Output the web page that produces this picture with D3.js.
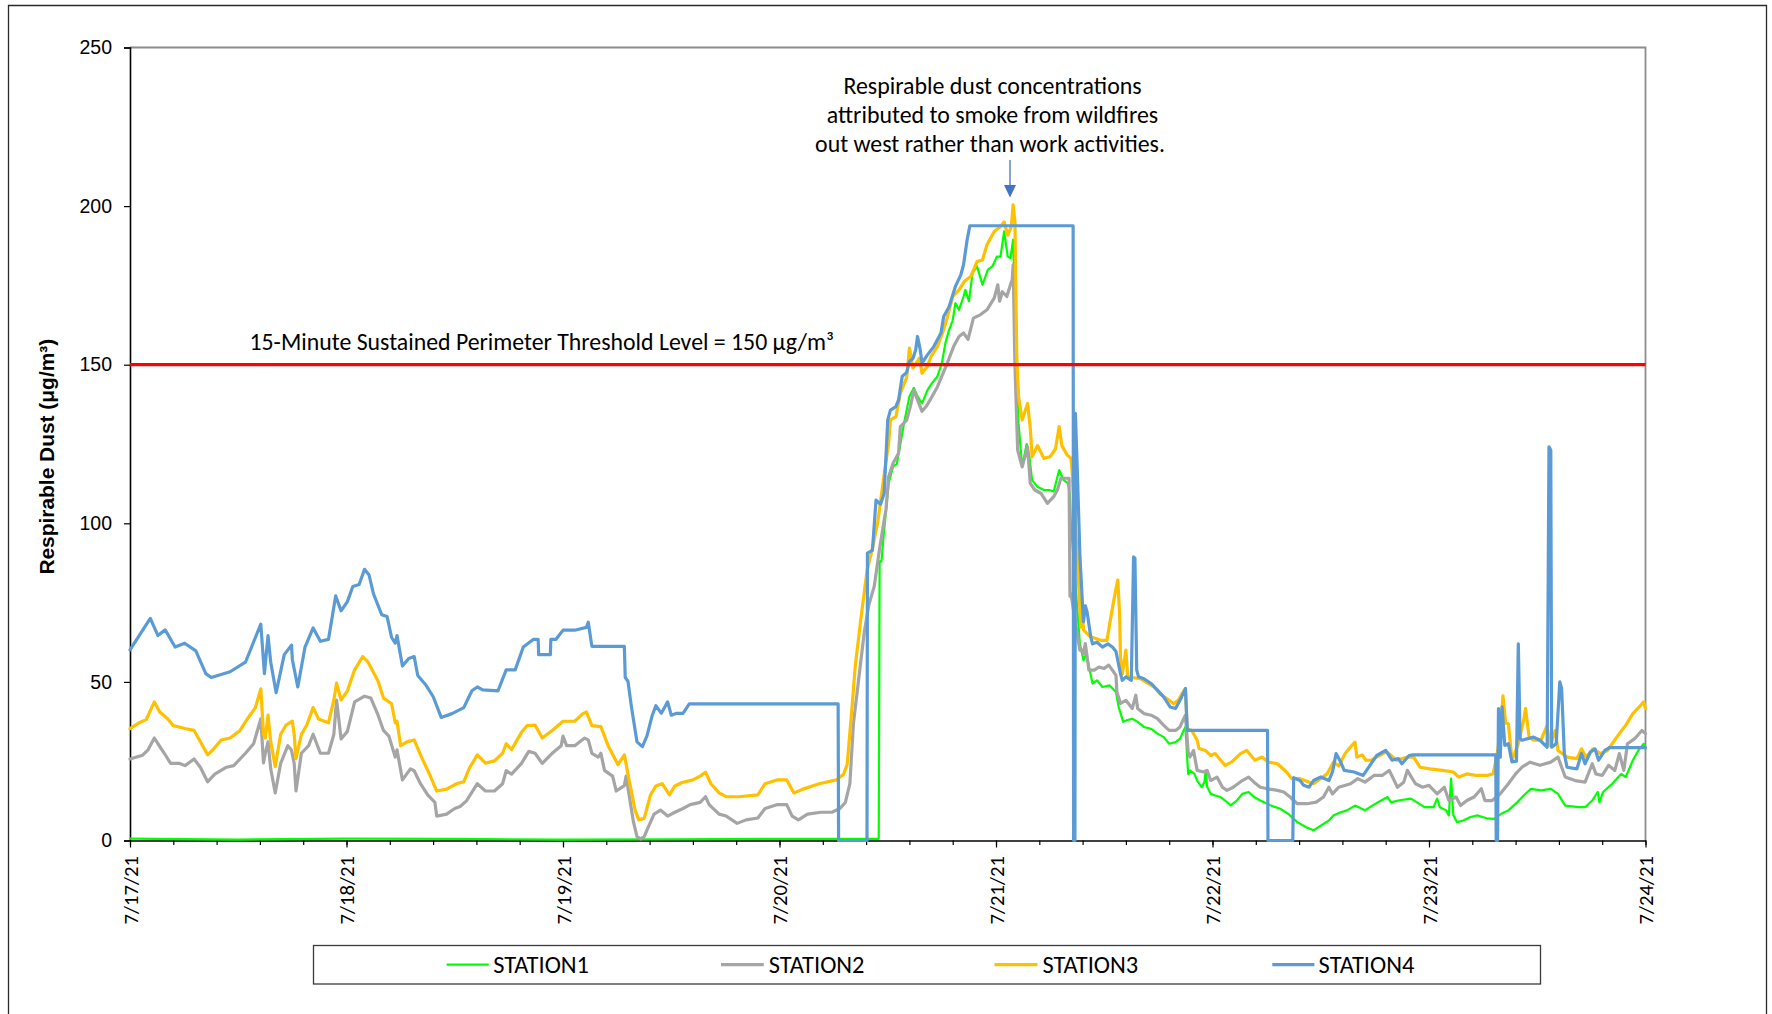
<!DOCTYPE html>
<html>
<head>
<meta charset="utf-8">
<script src="https://cdn.jsdelivr.net/npm/d3@7"></script>
<style>
  html, body { margin: 0; padding: 0; background: #ffffff; }
  svg { display: block; }
</style>
</head>
<body>
<svg id="chart" width="1772" height="1014"></svg>
<script>
// ---------------- DATA (hours since 7/17/21 00:00, value in µg/m³) ----------------
const seriesNames = ["STATION1", "STATION2", "STATION3", "STATION4"];
const dateLabels = ["7/17/21", "7/18/21", "7/19/21", "7/20/21", "7/21/21", "7/22/21", "7/23/21", "7/24/21"];
const yTicks = [0, 50, 100, 150, 200, 250];
const threshold = 150;
const thresholdLabel = "15-Minute Sustained Perimeter Threshold Level = 150 μg/m³";
const noteLines = ["Respirable dust concentrations", "attributed to smoke from wildfires", "out west rather than work activities."];
const yTitle = "Respirable Dust (μg/m³)";

const station1 = [
  [0,0.6],[12,0.3],[24,0.6],[36,0.5],[48,0.3],[60,0.4],[72,0.5],[83.0,0.5],[83.1,88],[83.3,88],[83.6,97.9],
  [84.1,112.6],[84.6,118],[85.0,118.7],[85.4,125],[85.8,131.5],[86.4,140],[86.9,142.7],[87.3,140],[87.8,137.8],
  [88.4,142],[88.9,144.2],[89.5,146.3],[90.0,150.5],[90.4,157],[90.8,161],[91.2,164],[91.5,169.4],[91.9,167.3],
  [92.4,171.5],[92.6,173.6],[93.0,170],[93.4,178.9],[93.9,181],[94.5,175.2],[95.1,180],[95.6,181],[96.1,184.1],
  [96.5,184.1],[96.9,192],[97.3,184.1],[97.6,183.6],[97.9,189.4],[98.1,170],[98.5,131.5],[98.9,117.8],[99.4,125],
  [99.7,121],[100.0,113.6],[100.6,111.5],[101.3,110.5],[101.9,110.5],[102.4,110],[103.0,116.8],[103.5,113.6],
  [104.0,112.6],[104.2,108.4],[104.3,100],[105.3,62],[105.7,56.8],[106.0,59],[106.7,49.5],[107.2,50.5],[107.8,48.4],
  [108.6,48.9],[109.3,46.8],[109.6,42.1],[110.1,37.4],[110.5,37.9],[111.1,38.4],[111.7,37.4],[112.4,35.8],
  [113.2,35.2],[113.9,33.7],[114.6,32.6],[115.2,30.5],[115.9,31],[116.4,32.1],[116.8,34.7],[117.0,35.8],[117.3,21],
  [117.5,22.1],[118.0,21],[118.3,18.9],[118.8,16.8],[119.1,18.4],[119.25,22],[119.4,17],[119.8,14.7],[120.3,14.2],
  [120.9,13.7],[121.4,12.6],[122.0,11.1],[122.7,12.6],[123.3,14.7],[124.0,15.3],[124.6,13.7],[125.3,12.6],
  [126.4,11.1],[127.5,10],[128.4,8.4],[129.4,5.8],[130.4,4.2],[131.2,3.2],[132.0,4.7],[132.9,6.3],[133.4,7.9],
  [134.2,8.9],[134.9,9.5],[135.8,11],[136.9,9.5],[137.7,11],[138.7,12.6],[139.4,13.7],[139.8,12],[140.6,12.6],
  [142.0,13.2],[143.5,10.5],[144.5,10.5],[144.9,13.2],[145.2,10.5],[145.9,9.5],[146.2,7.9],[146.45,19.5],
  [146.7,8],[147.1,5.8],[147.8,6.3],[148.6,7.4],[149.4,7.9],[150.4,7],[151.2,6.8],[152.0,8.4],[152.8,9.5],
  [153.8,12.1],[154.5,14.2],[155.3,16.3],[156.4,15.8],[157.5,16.3],[158.3,14.7],[159.1,11],[160.6,10.5],
  [161.3,10.5],[162.1,12.6],[162.7,15.3],[162.9,12],[163.3,15.3],[164.3,17.9],[165.3,21],[165.8,20],[166.6,25.3],
  [167.2,28.4],[167.8,30.5],[168,29]
];

const station2 = [
  [0,25.7],[1.4,26.9],[2.0,28.6],[2.7,32.3],[3.1,30.5],[3.8,27.5],[4.5,24.3],[5.5,24.3],[6.1,23.6],[7.1,25.7],
  [7.8,23.1],[8.6,18.5],[9.4,20.9],[10.7,23.1],[11.5,23.6],[12.8,27.5],[13.7,30.5],[14.5,38.3],[14.8,24.5],
  [15.0,27.5],[15.3,31.1],[15.6,22.6],[16.1,15],[16.7,24.3],[17.5,29.9],[17.9,28.5],[18.2,24.3],[18.4,15.6],
  [19.0,27.5],[19.8,29.9],[20.3,33.5],[21.1,27.5],[22.0,27.5],[22.6,33.5],[22.9,44.3],[23.4,32],[24.1,34.4],
  [24.9,43.7],[26.0,45.5],[26.7,44.9],[27.5,39.5],[28.1,34.7],[28.7,32.9],[29.4,26.3],[29.6,28.6],[30.2,19.1],
  [31.1,22.6],[31.5,22],[32.2,17.9],[33.0,14.4],[33.8,12],[34.0,7.7],[35.1,8.3],[36.0,10.1],[36.6,10.7],
  [37.3,12.5],[38.5,17.9],[39.4,15.6],[40.4,15.6],[41.3,17.9],[41.7,22],[42.3,20.9],[43.4,24.3],[44.2,28.1],
  [44.9,27.5],[45.7,24.3],[46.8,27.5],[47.8,29.9],[48.0,32.9],[48.4,29.9],[49.3,29.9],[50.4,32.3],[50.8,31.7],
  [51.2,27.5],[51.9,26.3],[52.2,27.5],[52.6,22.1],[53.5,20.3],[53.9,15.6],[54.8,17.3],[55.0,20.3],[55.4,13.1],
  [55.8,6],[56.2,1.2],[56.6,0.5],[57.0,1.2],[57.5,4.5],[58.1,8.3],[58.8,9.6],[59.6,7.7],[60.4,8.9],[61.3,10.1],
  [62.1,11.3],[63.2,12],[63.8,13.8],[64.2,11.3],[65.3,8.3],[66.1,7.7],[67.3,5.4],[68.3,6.5],[69.6,7.1],
  [70.4,10.1],[71.7,11.3],[72.8,11.3],[73.4,7.7],[74.1,6.5],[75.1,8.3],[76.6,8.9],[77.8,8.9],[78.7,10.1],
  [79.3,12],[79.8,17.9],[80.2,37],[80.8,51.4],[81.4,65.7],[81.9,74.2],[82.5,80.1],[83.1,92.1],[83.6,101],
  [83.8,104.2],[84.1,114.7],[84.6,119],[85.2,122.1],[85.4,130.5],[86.1,132.5],[86.5,136.8],[86.9,142],
  [87.3,138.9],[87.8,135.3],[88.3,137],[88.8,139.4],[89.5,143],[89.9,145.7],[90.6,150.5],[91.3,155.7],
  [91.9,158.9],[92.4,160],[92.9,158],[93.5,164.7],[94.3,165.8],[95.0,167.3],[95.8,171],[96.2,175.2],[96.4,170],
  [96.7,173],[97.2,171.5],[97.6,175.2],[97.8,176.8],[97.9,181.5],[98.1,150],[98.4,123.1],[98.9,117.8],
  [99.5,124.1],[99.8,112.6],[100.3,110.5],[101.0,109.4],[101.7,106.3],[102.4,108.4],[102.8,110.5],[103.2,114.2],
  [104.1,114.2],[104.15,96],[104.2,77],[104.3,78],[105.0,65],[105.3,60],[105.6,60],[105.7,58.9],[105.9,62.1],
  [106.3,53.7],[106.9,53.7],[107.4,54.7],[108.0,54.2],[108.5,55.3],[109.3,52.1],[109.4,46.8],[109.8,43.2],
  [110.4,44.2],[111.1,41.6],[111.5,45.8],[111.7,41.6],[112.4,40],[113.2,39.5],[113.9,38.4],[114.6,36.3],
  [115.2,34.7],[115.9,34.7],[116.4,35.8],[116.8,38.4],[117.0,39.5],[117.3,27.9],[117.5,26.3],[117.9,28.4],
  [118.3,22.1],[119.0,21.6],[119.4,22.1],[119.8,18.9],[120.5,20],[121.1,16.8],[121.6,15.8],[122.3,16.8],
  [123.3,18.9],[124.0,20],[124.6,18.4],[125.3,16.8],[126.1,16.3],[127.2,15.8],[127.9,15.3],[128.6,13.7],
  [129.4,11.6],[130.5,11.6],[131.5,12.1],[132.3,13.7],[132.9,16.8],[133.3,14.7],[134.0,16.8],[135.3,17.9],
  [136.1,19.5],[136.9,18.4],[137.9,20.5],[138.8,20.5],[139.6,22.1],[140.5,16.8],[141.2,18.4],[141.6,22.1],
  [142.5,17.9],[143.3,16.8],[144.0,17.4],[144.9,14.7],[145.7,16.8],[146.2,12.6],[147.0,13.7],[147.5,11],
  [148.2,12.6],[149.0,13.7],[149.8,16.3],[150.2,12.6],[151.0,12.6],[151.9,14.7],[152.8,17.9],[153.6,21],
  [154.3,23.1],[155.2,24.7],[156.3,23.7],[157.5,24.7],[158.3,26.3],[159.1,20],[160.2,18.9],[161.3,18.4],
  [162.1,24.2],[162.5,21],[163.2,20.5],[163.9,23.7],[164.6,22.1],[165.1,27.4],[165.6,22.1],[166.0,30.5],
  [166.8,32.1],[167.6,34.7],[168,33.7]
];

const station3 = [
  [0,35.3],[1.0,37.1],[1.8,38.1],[2.5,42.5],[2.7,43.7],[3.3,40.5],[4.2,38.3],[4.8,36.2],[6.1,35.3],[7.1,34.7],
  [7.7,31.7],[8.6,27],[9.2,28.6],[10.1,31.7],[11.1,32.3],[12.2,34.7],[13.0,38.3],[13.9,41.9],[14.5,47.8],
  [14.8,33.5],[15.0,32.3],[15.3,39.5],[15.6,31.1],[16.1,23.3],[16.7,33.5],[17.3,36.4],[18.0,37.6],[18.2,33.5],
  [18.4,25.8],[19.0,33.5],[19.6,36.4],[20.3,41.9],[20.9,38.3],[22.0,37.1],[22.6,44.3],[22.9,49.6],[23.4,44.3],
  [24.1,47.2],[24.9,53.8],[25.8,58],[26.4,56.2],[27.5,50.2],[28.1,44.9],[29.0,43.1],[29.4,37.1],[29.6,37.6],
  [30.0,29.9],[30.7,31.1],[31.5,31.7],[32.2,27],[33.2,20.9],[34.0,15.6],[35.1,16.2],[36.2,17.9],[37.0,18.5],
  [37.6,22.7],[38.5,27],[39.4,24.4],[40.4,25.1],[41.3,27.5],[41.7,30.5],[42.3,28.7],[43.4,34.1],[44.0,36.2],
  [44.9,36.4],[45.7,32.3],[46.8,34.7],[48.0,37.6],[49.3,37.6],[50.2,40],[50.6,40.5],[51.2,36.2],[52.2,35.9],
  [53.0,29.9],[54.1,23.9],[54.8,27],[55.4,18],[56.0,9.5],[56.4,6.5],[57.0,7.0],[57.7,14.4],[58.3,17.2],
  [59.0,17.9],[59.8,14.4],[60.4,17.2],[61.2,18.3],[62.4,19.1],[63.2,20.3],[63.8,21.5],[64.4,17.9],[65.3,15],
  [66.1,13.8],[67.5,13.8],[69.6,14.4],[70.4,17.9],[71.7,19.1],[72.8,19.1],[73.6,15],[74.6,16.2],[76.4,17.9],
  [78.3,19.1],[79.1,20.9],[79.5,23.9],[80.0,40.6],[80.4,55],[81.0,69.4],[81.7,85],[82.3,92.1],[82.9,100.5],
  [83.6,115.3],[84.1,125.2],[84.3,132.6],[84.9,133.6],[85.4,141],[86.1,146],[86.4,155.2],[86.8,149],[87.5,152],
  [87.8,147.3],[88.4,149.5],[88.8,152.6],[89.5,155.7],[90.2,161],[90.6,164.9],[91.2,171.5],[91.9,173.6],
  [92.5,176.3],[93.2,177.8],[93.9,182.5],[94.5,183],[95.0,187.8],[95.8,192],[96.5,193.6],[96.9,195],
  [97.3,190.8],[97.7,193.6],[97.9,200.4],[98.1,195],[98.3,152.6],[98.5,140],[98.9,132.6],[99.5,137.8],
  [99.8,130],[100.0,121],[100.6,124.5],[101.3,120.5],[102.0,121],[102.6,123.5],[103.0,130.5],[103.3,124.5],
  [103.9,121.5],[104.3,120.5],[104.4,118],[105.0,90],[105.4,67.3],[105.6,73.6],[105.7,66.3],[106.5,64.2],
  [107.6,63.1],[108.3,63.1],[108.8,71.6],[109.2,77.9],[109.5,82.1],[109.7,71.6],[109.8,57.9],[110.0,52.6],
  [110.4,60],[110.6,51.6],[112.0,51],[113.5,48.4],[114.2,46.2],[115.2,44.2],[115.7,43.1],[116.2,44.2],
  [116.6,46.2],[117.0,47.9],[117.2,35.2],[117.7,34.7],[118.3,31.6],[118.5,29],[119.2,28.4],[119.8,26.8],
  [120.3,27.4],[120.9,25.3],[121.4,23.7],[122.1,24.7],[123.1,27.4],[123.8,28.4],[124.7,25.3],[125.5,26.3],
  [126.2,24.7],[127.2,24.2],[128.2,21.6],[128.8,19.5],[129.7,19.5],[131.2,17.9],[132.7,21],[133.4,24.7],
  [134.0,23.5],[134.7,27.4],[135.3,29.5],[135.8,31],[136.0,26.3],[136.6,27],[137.0,25.3],[137.6,25.3],
  [138.2,26.3],[139.3,28],[140.4,25.3],[141.6,26.3],[142.3,26.3],[143.0,23.1],[144.1,22.6],[145.5,22.1],
  [146.7,21.6],[147.3,20],[148.2,21],[149.3,20.5],[150.4,20.5],[151.1,21],[151.5,26.3],[151.9,33.7],
  [152.2,45.6],[152.5,37],[152.8,36.8],[153.2,25.3],[153.9,30.5],[154.5,38],[154.7,41.6],[155.1,32.6],
  [155.6,31.6],[156.4,31.6],[157.1,36.3],[157.4,30],[158.0,34.7],[158.3,28.4],[159.3,26.3],[160.4,25.8],
  [160.9,28.9],[161.4,26.3],[162.2,28.9],[163.0,27.4],[163.8,28.4],[164.3,30.5],[165.1,33.7],[165.8,36.3],
  [166.6,40],[167.3,42.1],[167.8,43.7],[168,41.6]
];

const station4 = [
  [0,60.1],[2.25,70],[3.1,64.6],[3.9,66.4],[5.0,61],[6.06,62.2],[7.3,59.8],[8.4,52.6],[9.0,51.4],[11.1,53.2],
  [12.8,56.2],[13.9,64],[14.5,68.2],[14.9,52.6],[15.3,64.6],[15.6,56.2],[16.2,46.6],[17.1,58.6],[17.9,61.6],
  [18.0,57],[18.6,48.4],[19.4,61],[20.3,67],[21.1,62.8],[22.0,63.4],[22.8,77.1],[23.4,72.4],[24.1,75.3],
  [24.7,80.1],[25.4,80.7],[26.0,85.5],[26.5,83.7],[27.0,77.7],[27.9,71.2],[28.5,70.6],[29.0,64],[29.4,62.2],
  [29.6,64.6],[30.2,55],[30.9,57.4],[31.5,58],[31.9,52],[32.8,49],[33.6,45.4],[34.5,38.8],[35.7,40],[37.0,41.9],
  [37.9,47.2],[38.5,48.4],[39.1,47.5],[40.8,47.2],[41.7,53.8],[42.7,53.8],[43.6,61],[44.7,63.4],[45.25,63.4],
  [45.3,58.6],[46.6,58.6],[46.65,63.4],[47.2,63.4],[48.0,66.3],[49.3,66.3],[50.6,67.2],[50.8,68.8],[51.2,61.2],
  [54.8,61.2],[54.9,51.4],[55.2,50.2],[55.6,41.9],[56.2,31.1],[56.8,29.6],[57.3,32.9],[57.9,39.5],[58.3,42.5],
  [58.9,40.1],[59.6,43.7],[60.0,39.5],[60.6,40.1],[61.3,40.1],[62.0,43.1],[78.5,43.1],[78.55,0],[81.7,0],
  [81.75,90.6],[82.3,91.5],[82.7,107.3],[83.2,106],[83.6,109.4],[84.0,132.6],[84.3,135.7],[84.9,136.8],
  [85.2,138.9],[85.6,146.3],[86.1,147.6],[86.4,151],[86.8,152],[87.1,154.7],[87.3,158.9],[87.6,154.7],
  [87.8,150.5],[88.4,153.1],[89.1,155.7],[89.9,160],[90.2,165.2],[90.8,168.3],[91.5,174.7],[92.1,178.3],
  [92.4,181.5],[92.8,189.4],[93.1,193.8],[104.55,193.8],[104.6,0],[104.75,0],[104.8,134.7],[105.0,118],
  [105.3,90],[105.6,73.6],[105.7,69],[105.9,74],[106.1,72],[106.5,64.2],[106.7,62],[107.2,62.5],[107.8,61],
  [108.4,62],[108.9,61],[109.3,59.6],[109.8,52.6],[110.0,50.5],[110.4,51.6],[111.0,50.5],[111.25,89.4],
  [111.4,89],[111.6,53.7],[111.8,51.6],[112.4,51],[113.2,49.5],[113.9,47.4],[114.6,45.2],[115.3,42.1],
  [115.9,41.6],[116.4,44.2],[117.0,47.9],[117.2,34.7],[126.1,34.7],[126.15,0],[128.9,0],[129.0,19.8],
  [129.7,18.9],[130.1,17.4],[130.7,16.8],[131.2,18.9],[132.0,20],[132.9,18.9],[133.3,21.6],[133.7,27.4],
  [134.2,24.8],[134.6,22.1],[135.7,21.6],[136.7,20.5],[138.2,26.8],[139.2,28.4],[139.9,25.3],[140.6,25.8],
  [141.0,24.2],[141.8,26.8],[142.2,27],[151.4,27],[151.45,0],[151.6,0],[151.7,41.6],[151.9,26.3],[152.1,42.1],
  [152.4,30],[152.8,30.5],[153.2,24.8],[153.7,25],[153.9,62],[154.1,32],[154.3,31.6],[155.6,32.6],[156.3,31.6],
  [157.1,29.4],[157.3,124.1],[157.5,123],[157.6,29.4],[158.1,30.5],[158.5,50],[158.7,48],[159.0,27.4],
  [159.3,23.1],[160.4,22.6],[160.9,27.4],[161.3,24.2],[161.9,27.9],[162.4,28.9],[162.8,25.3],[163.5,28.4],
  [164.0,29.3],[168,29.3]
];

const seriesData = [station1, station2, station3, station4];
const seriesColors = ["#00FF00", "#A5A5A5", "#FFC000", "#5B9BD5"];
const seriesWidths = [2.2, 3.2, 3.2, 3.2];

// ---------------- LAYOUT ----------------
const svg = d3.select("#chart");
const X0 = 130, X1 = 1645.5, Y0 = 840.5, Y1 = 47.5;
const x = d3.scaleLinear().domain([0, 168]).range([X0, X1]);
const y = d3.scaleLinear().domain([0, 250]).range([Y0, Y1]);

const calibri = "Carlito, Calibri, Lato, 'Open Sans', sans-serif";
const arial = "'Liberation Sans', Arial, sans-serif";

function fit(sel, target) {
  const w = sel.node().getComputedTextLength();
  const fs = parseFloat(sel.attr("font-size"));
  sel.attr("font-size", (fs * target / w).toFixed(2));
}

// outer frame
svg.append("path")
  .attr("d", "M8.5,1020 V5.5 H1766.5 V1020")
  .attr("fill", "none").attr("stroke", "#2a2a2a").attr("stroke-width", 1.3);

// plot border (top / right)
svg.append("path")
  .attr("d", `M${X0},${Y1} H${X1} V${Y0}`)
  .attr("fill", "none").attr("stroke", "#8c8c8c").attr("stroke-width", 1.8);

// Y axis
const yAxis = svg.append("g").attr("transform", `translate(${X0},0)`)
  .call(d3.axisLeft(y).tickValues(yTicks).tickSize(6).tickPadding(12).tickFormat(d3.format("d")));
yAxis.select(".domain").attr("stroke", "#000").attr("stroke-width", 1.6);
yAxis.selectAll(".tick line").attr("stroke", "#000").attr("stroke-width", 1.2);
yAxis.selectAll(".tick text").attr("font-family", arial).attr("font-size", 19.5).attr("fill", "#000");

// X axis minor ticks
const minorTicks = d3.range(0, 168.01, 4.8);
const xMinor = svg.append("g").attr("transform", `translate(0,${Y0})`)
  .call(d3.axisBottom(x).tickValues(minorTicks).tickSize(4.5).tickFormat(""));
xMinor.select(".domain").remove();
xMinor.selectAll(".tick line").attr("stroke", "#000").attr("stroke-width", 1.2);

// X axis major ticks + labels
const majorTicks = d3.range(0, 169, 24);
const xAxis = svg.append("g").attr("transform", `translate(0,${Y0})`)
  .call(d3.axisBottom(x).tickValues(majorTicks).tickSize(7).tickSizeOuter(0)
    .tickFormat((d, i) => dateLabels[i]));
xAxis.select(".domain").attr("stroke", "#000").attr("stroke-width", 1.6);
xAxis.selectAll(".tick line").attr("stroke", "#000").attr("stroke-width", 1.2);
xAxis.selectAll(".tick text")
  .attr("font-family", calibri).attr("font-size", 20).attr("fill", "#000")
  .attr("text-anchor", "end")
  .attr("transform", "rotate(-90)")
  .attr("x", -15.5).attr("y", 0).attr("dy", "0.36em");
xAxis.selectAll(".tick text").each(function () { fit(d3.select(this), 68.5); });

// Y axis title
const yt = svg.append("text")
  .attr("transform", "translate(53.5,456.7) rotate(-90)")
  .attr("text-anchor", "middle")
  .attr("font-family", arial).attr("font-weight", "bold").attr("font-size", 20).attr("fill", "#000")
  .text(yTitle);
fit(yt, 236);

// series lines
const line = d3.line().x(d => x(d[0])).y(d => y(d[1]));
const gLines = svg.append("g");
seriesData.forEach((data, i) => {
  gLines.append("path")
    .datum(data)
    .attr("d", line)
    .attr("fill", "none")
    .attr("stroke", seriesColors[i])
    .attr("stroke-width", seriesWidths[i])
    .attr("stroke-linejoin", "round")
    .attr("stroke-linecap", "round");
});

// threshold line
svg.append("line")
  .attr("x1", X0).attr("x2", X1)
  .attr("y1", y(threshold)).attr("y2", y(threshold))
  .attr("stroke", "#FF0000").attr("stroke-width", 3.2);

const tl = svg.append("text")
  .attr("x", 249.5).attr("y", 350)
  .attr("font-family", calibri).attr("font-size", 21).attr("fill", "#000")
  .text(thresholdLabel);
fit(tl, 584.5);

// annotation
const noteCenters = [992.5, 992.5, 990];
const noteBaselines = [94.3, 123.3, 152.3];
const noteWidths = [298.4, 331.6, 350];
noteLines.forEach((t, i) => {
  const s = svg.append("text")
    .attr("x", noteCenters[i]).attr("y", noteBaselines[i])
    .attr("text-anchor", "middle")
    .attr("font-family", calibri).attr("font-size", 21).attr("fill", "#000")
    .text(t);
  fit(s, noteWidths[i]);
});

// arrow
svg.append("line")
  .attr("x1", 1010).attr("x2", 1010).attr("y1", 160).attr("y2", 186)
  .attr("stroke", "#4472C4").attr("stroke-width", 1.3);
svg.append("path")
  .attr("d", "M1004,185 L1016,185 L1010,197.5 Z")
  .attr("fill", "#4472C4");

// legend
svg.append("rect")
  .attr("x", 313.5).attr("y", 945.5).attr("width", 1227).attr("height", 38.5)
  .attr("fill", "#fff").attr("stroke", "#3a3a3a").attr("stroke-width", 1.3);
const legLineX = [[446.6, 488.7], [721, 763.8], [994.5, 1037.4], [1272.3, 1314.4]];
const legTextX = [493.3, 768.8, 1042.5, 1318.6];
seriesNames.forEach((n, i) => {
  svg.append("line")
    .attr("x1", legLineX[i][0]).attr("x2", legLineX[i][1])
    .attr("y1", 964.7).attr("y2", 964.7)
    .attr("stroke", seriesColors[i]).attr("stroke-width", seriesWidths[i]);
  const t = svg.append("text")
    .attr("x", legTextX[i]).attr("y", 972.6)
    .attr("font-family", calibri).attr("font-size", 22).attr("fill", "#000")
    .text(n);
  fit(t, 95.7);
});
</script>
</body>
</html>
